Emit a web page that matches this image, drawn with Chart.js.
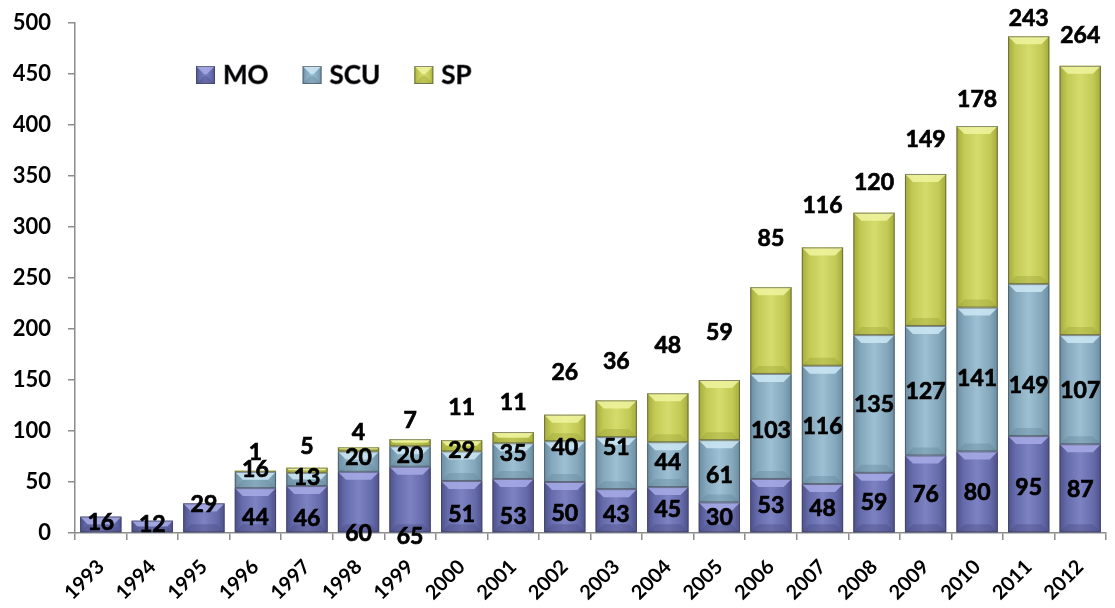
<!DOCTYPE html>
<html>
<head>
<meta charset="utf-8">
<script src="https://cdn.jsdelivr.net/npm/chart.js@4"></script>
<style>
  body { margin: 0; background: #fff; }
</style>
</head>
<body>
<canvas id="myChart" width="1115" height="608"></canvas>
<script>
var years = ["1993","1994","1995","1996","1997","1998","1999","2000","2001","2002",
             "2003","2004","2005","2006","2007","2008","2009","2010","2011","2012"];
var mo  = [16, 12, 29, 44, 46, 60, 65, 51, 53, 50, 43, 45, 30, 53, 48, 59, 76, 80, 95, 87];
var scu = [0, 0, 0, 16, 13, 20, 20, 29, 35, 40, 51, 44, 61, 103, 116, 135, 127, 141, 149, 107];
var sp  = [0, 0, 0, 1, 5, 4, 7, 11, 11, 26, 36, 48, 59, 85, 116, 120, 149, 178, 243, 264];
var yTicks = [0, 50, 100, 150, 200, 250, 300, 350, 400, 450, 500];

// label nudges in px (the original labels were dragged around by hand)
var moNudge  = [-2, -2, -13, 7, 9, 32, 37, 8, 11, 6, 4, 0, 0, 0, 0, 0, 1, 1, 3, 1];
var scuNudge = [0, 0, 0, -10, -2, -4, -1, -16, -8, -14, -16, -2, 4, 4, 2, 1, 1, -1, 25, 1];
var spLift   = [0, 0, 0, 18, 21, 15, 19, 33, 29, 42, 39, 48, 47, 49, 42, 30, 34, 26, 18, 30];

var FONT = "Lato, 'Open Sans', sans-serif";

// dark edge, mid, light center, top bevel, bottom bevel
var palettes = [
    ["#4d528c", "#666bab", "#7d82c2", "#a7abe6", "#484c82"],
    ["#6a8da2", "#84a7bb", "#9dc0d3", "#cce8f4", "#67879a"],
    ["#a3aa38", "#c2c954", "#d6dc6c", "#f0f4a0", "#9ca236"]
];

function fillBevel(ctx, left, top, w, h, pal) {
    var g = ctx.createLinearGradient(left, 0, left + w, 0);
    g.addColorStop(0, pal[0]);
    g.addColorStop(0.18, pal[1]);
    g.addColorStop(0.5, pal[2]);
    g.addColorStop(0.82, pal[1]);
    g.addColorStop(1, pal[0]);
    ctx.fillStyle = g;
    ctx.fillRect(left, top, w, h);
    var b = Math.min(8, h / 2);
    ctx.fillStyle = pal[3];
    ctx.globalAlpha = 0.85;
    ctx.beginPath();
    ctx.moveTo(left, top);
    ctx.lineTo(left + w, top);
    ctx.lineTo(left + w - b, top + b);
    ctx.lineTo(left + b, top + b);
    ctx.closePath();
    ctx.fill();
    ctx.fillStyle = pal[4];
    ctx.globalAlpha = 0.4;
    ctx.beginPath();
    ctx.moveTo(left, top + h);
    ctx.lineTo(left + w, top + h);
    ctx.lineTo(left + w - b, top + h - b);
    ctx.lineTo(left + b, top + h - b);
    ctx.closePath();
    ctx.fill();
    ctx.globalAlpha = 1;
    ctx.strokeStyle = "rgba(60,60,70,0.55)";
    ctx.lineWidth = 1;
    ctx.strokeRect(left + 0.5, top + 0.5, w - 1, h - 1);
}

var bevelBars = {
    id: "bevelBars",
    afterDatasetsDraw: function(chart) {
        var ctx = chart.ctx;
        ctx.save();
        chart.data.datasets.forEach(function(ds, di) {
            var meta = chart.getDatasetMeta(di);
            meta.data.forEach(function(el) {
                var p = el.getProps(["x", "y", "base", "width"], true);
                var h = Math.abs(p.base - p.y);
                if (h < 0.5) return;
                fillBevel(ctx, p.x - p.width / 2, Math.min(p.y, p.base), p.width, h, palettes[di]);
            });
        });
        ctx.restore();
    }
};

var valueLabels = {
    id: "valueLabels",
    afterDraw: function(chart) {
        var ctx = chart.ctx;
        ctx.save();
        ctx.font = "bold 23px " + FONT;
        ctx.fillStyle = "#000";
        ctx.strokeStyle = "#000";
        ctx.lineWidth = 0.7;
        ctx.textAlign = "center";
        ctx.textBaseline = "middle";
        var nudges = [moNudge, scuNudge];
        chart.data.datasets.forEach(function(ds, di) {
            var meta = chart.getDatasetMeta(di);
            meta.data.forEach(function(el, i) {
                var v = ds.data[i];
                if (!v) return;
                var p = el.getProps(["x", "y", "base"], true);
                var ty;
                if (di < 2) ty = (p.y + p.base) / 2 + nudges[di][i];
                else ty = p.y - spLift[i];
                ctx.fillText(String(v), p.x, ty);
                ctx.strokeText(String(v), p.x, ty);
            });
        });

        // legend
        var x = chart.chartArea.left + 121;
        var cy = 75;
        ctx.font = "bold 26px " + FONT;
        ctx.textAlign = "left";
        chart.data.datasets.forEach(function(ds, di) {
            fillBevel(ctx, x, cy - 9, 19, 18, palettes[di]);
            ctx.fillStyle = "#000";
            ctx.fillText(ds.label, x + 27, cy + 1);
            ctx.strokeText(ds.label, x + 27, cy + 1);
            x += 27 + ctx.measureText(ds.label).width + 34;
        });
        ctx.restore();
    }
};

var canvas = document.getElementById("myChart");
var chart = new Chart(canvas, {
    type: "bar",
    data: {
        labels: years,
        datasets: [
            { label: "MO", data: mo, backgroundColor: palettes[0][1], barPercentage: 0.8, categoryPercentage: 1 },
            { label: "SCU", data: scu, backgroundColor: palettes[1][1], barPercentage: 0.8, categoryPercentage: 1 },
            { label: "SP", data: sp, backgroundColor: palettes[2][1], barPercentage: 0.8, categoryPercentage: 1 }
        ]
    },
    options: {
        responsive: false,
        animation: false,
        layout: { padding: { top: 23, right: 9, left: 0, bottom: 0 } },
        plugins: {
            legend: { display: false },
            tooltip: { enabled: false }
        },
        scales: {
            x: {
                stacked: true,
                grid: { offset: true, drawOnChartArea: false, tickLength: 7, color: "#8c8c8c", lineWidth: 1.5 },
                border: { color: "#8c8c8c", width: 1.5 },
                ticks: {
                    minRotation: 45, maxRotation: 45, padding: 15,
                    color: "#000", font: { family: FONT, size: 20, weight: "bold" }
                },
                afterFit: function(s) { s.height = 75; }
            },
            y: {
                stacked: true,
                min: 0,
                max: 500,
                afterBuildTicks: function(s) { s.ticks = yTicks.map(function(v) { return { value: v }; }); },
                grid: { drawOnChartArea: false, tickLength: 7, color: "#8c8c8c", lineWidth: 1.5 },
                border: { color: "#8c8c8c", width: 1.5 },
                ticks: {
                    padding: 17,
                    color: "#000", font: { family: FONT, size: 22, weight: "bold" }
                },
                afterFit: function(s) { s.width = 75; s.paddingTop = 0; s.paddingBottom = 0; }
            }
        }
    },
    plugins: [bevelBars, valueLabels]
});
</script>
</body>
</html>
